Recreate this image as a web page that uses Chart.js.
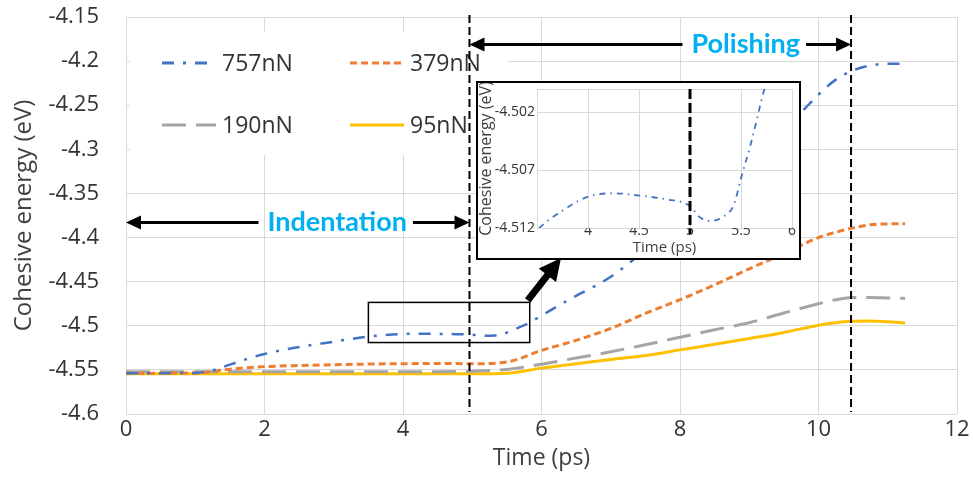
<!DOCTYPE html>
<html>
<head>
<meta charset="utf-8">
<script src="https://cdn.jsdelivr.net/npm/chart.js@4.4.0/dist/chart.umd.min.js"></script>
<style>
  html, body { margin: 0; padding: 0; background: #fff; }
  #wrap { position: relative; width: 973px; height: 482px; }
  #main { position: absolute; left: 0; top: 0; }
  #inset { position: absolute; left: 476px; top: 81px; width: 321px; height: 175px;
           border: 2px solid #000; background: #fff; }
  #inset canvas { display: block; }
</style>
</head>
<body>
<div id="wrap">
  <canvas id="main" width="973" height="482"></canvas>
  <div id="inset"><canvas id="insetCanvas" width="321" height="175"></canvas></div>
</div>
<script>
// series names
const seriesLabels = ['757nN', '379nN', '190nN', '95nN'];

// 757nN has its own (finer) time axis because of the zoomed inset
const time757 = [0, 0.5, 1, 1.25, 1.5, 1.75, 2, 2.5, 3, 3.5, 3.75, 4, 4.25, 4.5, 4.75, 5, 5.1, 5.2, 5.33, 5.43,
                 5.5, 5.6, 5.7, 5.8, 6, 6.25, 6.5, 6.75, 7, 7.25, 7.5, 8, 8.5, 9, 9.5, 9.75, 10, 10.25, 10.5, 10.75, 11, 11.2];
const energy757 = [-4.5537, -4.5537, -4.5535, -4.5505, -4.544, -4.5375, -4.532, -4.524, -4.518, -4.5122,
                   -4.5105, -4.5093, -4.509, -4.5092, -4.5095, -4.5101, -4.5111, -4.5114, -4.511, -4.51,
                   -4.5077, -4.5046, -4.501, -4.4975, -4.4885, -4.477, -4.466, -4.456, -4.4445, -4.43,
                   -4.413, -4.378, -4.344, -4.31, -4.276, -4.258, -4.238, -4.221, -4.2105, -4.205, -4.203, -4.203];

// other loads share one time axis
const time = [0, 1, 1.5, 2, 2.5, 3, 3.5, 4, 4.5, 5, 5.5, 6, 6.5, 7, 7.5, 8, 8.5, 9, 9.5, 10, 10.25, 10.5, 10.75, 11, 11.25];
const energy379 = [-4.5537, -4.5535, -4.5492, -4.5463, -4.545, -4.5442, -4.5434, -4.543, -4.5427, -4.543,
                   -4.541, -4.528, -4.5165, -4.503, -4.486, -4.4705, -4.4535, -4.4355, -4.418, -4.4,
                   -4.394, -4.389, -4.3855, -4.3845, -4.3843];
const energy190 = [-4.552, -4.552, -4.552, -4.552, -4.552, -4.552, -4.552, -4.552, -4.552, -4.5515,
                   -4.5495, -4.5435, -4.5365, -4.5295, -4.5215, -4.513, -4.5045, -4.4965, -4.4855, -4.475,
                   -4.4705, -4.468, -4.468, -4.4685, -4.469];
const energy95 = [-4.5545, -4.5545, -4.5545, -4.5545, -4.5545, -4.5545, -4.5545, -4.5545, -4.5545, -4.5545,
                  -4.5538, -4.548, -4.543, -4.5382, -4.5337, -4.5273, -4.521, -4.5145, -4.5077, -4.4993,
                  -4.4965, -4.495, -4.4945, -4.4955, -4.4968];

// tick labels
const xTicks = [0, 2, 4, 6, 8, 10, 12];
const yTicks = [-4.6, -4.55, -4.5, -4.45, -4.4, -4.35, -4.3, -4.25, -4.2, -4.15];
const insetXTicks = [3.5, 4, 4.5, 5, 5.5, 6];
const insetYTicks = [-4.512, -4.507, -4.502, -4.5];

// end of indentation / end of polishing (ps)
const phaseBounds = [4.96, 10.47];

// ---- styling (kept apart from the data) ----
const styles = [
  { color: '#4472C4', dash: [12, 9, 3, 9], width: 2.5 },
  { color: '#ED7D31', dash: [7, 4], width: 3 },
  { color: '#A5A5A5', dash: [24, 10], width: 3 },
  { color: '#FFC000', dash: [], width: 3 }
];
const phaseArrows = [
  { label: 'Indentation', from: 0, to: phaseBounds[0], y: -4.383, at: 3.05 },
  { label: 'Polishing', from: phaseBounds[0], to: phaseBounds[1], y: -4.1812, at: 8.95 }
];
const zoomBox = { x0: 3.5, x1: 5.83, y0: -4.4735, y1: -4.519 };
const legendBox = { left: 130, top: 32, right: 508, bottom: 155 };
const legendSlots = [[162, 63], [350, 63], [162, 125], [350, 125]];
const textColor = '#333';

Chart.defaults.font.family = "'Open Sans', sans-serif";
Chart.defaults.color = textColor;

const pts = (xs, ys) => xs.map((x, i) => ({ x: x, y: ys[i] }));
const seriesData = [pts(time757, energy757), pts(time, energy379), pts(time, energy190), pts(time, energy95)];

function arrowHead(ctx, x, y, angle, len, half) {
  ctx.save();
  ctx.translate(x, y);
  ctx.rotate(angle);
  ctx.beginPath();
  ctx.moveTo(0, 0);
  ctx.lineTo(-len, -half);
  ctx.lineTo(-len, half);
  ctx.closePath();
  ctx.fill();
  ctx.restore();
}

// the tick padding would otherwise push the plot area down
function fixVertical(width) {
  return s => { s.width = width; s.paddingTop = 0; s.paddingBottom = 0; };
}

const decorations = {
  id: 'decorations',
  beforeDatasetsDraw(chart) {
    // legend sits inside the plot on a white box
    const ctx = chart.ctx;
    ctx.save();
    ctx.fillStyle = '#fff';
    ctx.fillRect(legendBox.left, legendBox.top, legendBox.right - legendBox.left, legendBox.bottom - legendBox.top);
    chart.data.datasets.forEach((ds, i) => {
      const [lx, ly] = legendSlots[i];
      ctx.strokeStyle = ds.borderColor;
      ctx.lineWidth = 3;
      ctx.setLineDash(ds.borderDash || []);
      ctx.beginPath();
      ctx.moveTo(lx, ly);
      ctx.lineTo(lx + 54, ly);
      ctx.stroke();
      ctx.setLineDash([]);
      ctx.fillStyle = textColor;
      ctx.font = "23px 'Open Sans'";
      ctx.textBaseline = 'middle';
      ctx.textAlign = 'left';
      ctx.fillText(ds.label, lx + 60, ly + 1);
    });
    ctx.restore();
  },
  afterDatasetsDraw(chart) {
    const ctx = chart.ctx;
    const xs = chart.scales.x, ys = chart.scales.y, area = chart.chartArea;
    ctx.save();

    // phase boundaries
    ctx.strokeStyle = '#000';
    ctx.lineWidth = 2;
    ctx.setLineDash([8, 4]);
    phaseBounds.forEach(b => {
      const px = xs.getPixelForValue(b);
      ctx.beginPath();
      ctx.moveTo(px, area.top - 2);
      ctx.lineTo(px, area.bottom - 2);
      ctx.stroke();
    });
    ctx.setLineDash([]);

    // double-headed arrows with labels
    ctx.font = "bold 27px Lato";
    phaseArrows.forEach(a => {
      const x1 = xs.getPixelForValue(a.from), x2 = xs.getPixelForValue(a.to);
      const y = ys.getPixelForValue(a.y);
      const cx = xs.getPixelForValue(a.at);
      const w = ctx.measureText(a.label).width;
      ctx.strokeStyle = '#000';
      ctx.fillStyle = '#000';
      ctx.lineWidth = 3;
      ctx.beginPath();
      ctx.moveTo(x1 + 10, y); ctx.lineTo(cx - w / 2 - 9, y);
      ctx.moveTo(cx + w / 2 + 6, y); ctx.lineTo(x2 - 10, y);
      ctx.stroke();
      arrowHead(ctx, x1, y, Math.PI, 15, 7);
      arrowHead(ctx, x2, y, 0, 15, 7);
      ctx.fillStyle = '#00B0F0';
      ctx.textAlign = 'center';
      ctx.textBaseline = 'alphabetic';
      ctx.fillText(a.label, cx, y + 8);
    });

    // zoom region box
    const bx0 = xs.getPixelForValue(zoomBox.x0), bx1 = xs.getPixelForValue(zoomBox.x1);
    const by0 = ys.getPixelForValue(zoomBox.y0), by1 = ys.getPixelForValue(zoomBox.y1);
    ctx.strokeStyle = '#000';
    ctx.lineWidth = 1.5;
    ctx.strokeRect(bx0, by0, bx1 - bx0, by1 - by0);

    // thick arrow from box to inset
    const tx = bx1 - 2, ty = by0 - 2, hx = 561, hy = 258;
    const ang = Math.atan2(hy - ty, hx - tx);
    ctx.lineWidth = 7;
    ctx.beginPath();
    ctx.moveTo(tx, ty);
    ctx.lineTo(hx - 18 * Math.cos(ang), hy - 18 * Math.sin(ang));
    ctx.stroke();
    ctx.fillStyle = '#000';
    arrowHead(ctx, hx, hy, ang, 22, 11);
    ctx.restore();
  }
};

new Chart(document.getElementById('main'), {
  type: 'line',
  data: {
    datasets: seriesData.map((d, i) => ({
      label: seriesLabels[i],
      data: d,
      borderColor: styles[i].color,
      borderWidth: styles[i].width,
      borderDash: styles[i].dash,
      pointRadius: 0,
      fill: false,
      cubicInterpolationMode: 'monotone'
    }))
  },
  options: {
    responsive: false,
    animation: false,
    layout: { padding: { top: 17, right: 16, left: 0, bottom: 0 } },
    scales: {
      x: {
        type: 'linear', min: 0, max: 12,
        afterBuildTicks: s => { s.ticks = xTicks.map(v => ({ value: v })); },
        afterFit: s => { s.height = 68; },
        grid: { color: '#D9D9D9', drawTicks: false },
        border: { display: false },
        ticks: { padding: 3, font: { size: 22 }, color: textColor, callback: v => String(v) },
        title: { display: true, text: 'Time (ps)', font: { size: 23 }, color: '#404040', padding: { top: 0, bottom: 10 } }
      },
      y: {
        type: 'linear', min: -4.6, max: -4.15,
        afterBuildTicks: s => { s.ticks = yTicks.map(v => ({ value: v })); },
        afterFit: fixVertical(126),
        grid: { color: '#D9D9D9', drawTicks: false },
        border: { display: false },
        ticks: { padding: 27, font: { size: 22 }, color: textColor, callback: v => String(Number(v.toFixed(2))) },
        title: { display: true, text: 'Cohesive energy (eV)', font: { size: 24 }, color: '#404040', padding: { top: 10, bottom: 0 } }
      }
    },
    plugins: { legend: { display: false }, tooltip: { enabled: false } }
  },
  plugins: [decorations]
});

// ---- inset: zoom on the 757nN curve around the end of indentation ----
const insetMarker = {
  id: 'insetMarker',
  afterDatasetsDraw(chart) {
    const ctx = chart.ctx, area = chart.chartArea;
    const px = chart.scales.x.getPixelForValue(5);
    ctx.save();
    ctx.strokeStyle = '#000';
    ctx.lineWidth = 3;
    ctx.setLineDash([10, 4]);
    ctx.beginPath();
    ctx.moveTo(px, area.top);
    ctx.lineTo(px, area.bottom + 6);
    ctx.stroke();
    ctx.restore();
  }
};

new Chart(document.getElementById('insetCanvas'), {
  type: 'line',
  data: {
    datasets: [{
      label: seriesLabels[0],
      data: seriesData[0],
      borderColor: styles[0].color,
      borderWidth: 1.8,
      borderDash: [6, 5, 1.5, 5],
      pointRadius: 0,
      fill: false,
      cubicInterpolationMode: 'monotone'
    }]
  },
  options: {
    responsive: false,
    animation: false,
    layout: { padding: { top: 6, right: 7, left: 0, bottom: 0 } },
    scales: {
      x: {
        type: 'linear', min: 3.5, max: 6,
        afterBuildTicks: s => { s.ticks = insetXTicks.map(v => ({ value: v })); },
        afterFit: s => { s.height = 30; },
        grid: { color: '#D9D9D9', drawTicks: false },
        border: { display: false },
        ticks: { padding: -5, font: { size: 14 }, color: textColor, callback: v => (v === 3.5 ? '' : String(v)) },
        title: { display: true, text: 'Time (ps)', font: { size: 15, lineHeight: 1 }, color: '#404040', padding: { top: 0, bottom: 3 } }
      },
      y: {
        type: 'linear', min: -4.512, max: -4.5,
        afterBuildTicks: s => { s.ticks = insetYTicks.map(v => ({ value: v })); },
        afterFit: fixVertical(59),
        grid: { color: '#D9D9D9', drawTicks: false },
        border: { display: false },
        ticks: { padding: 2, font: { size: 14 }, color: textColor, callback: v => (v === -4.5 ? '' : v.toFixed(3)) },
        title: { display: true, text: 'Cohesive energy (eV)', font: { size: 16, lineHeight: 1 }, color: '#404040', padding: { top: 0, bottom: 0 } }
      }
    },
    plugins: { legend: { display: false }, tooltip: { enabled: false } }
  },
  plugins: [insetMarker]
});
</script>
</body>
</html>
